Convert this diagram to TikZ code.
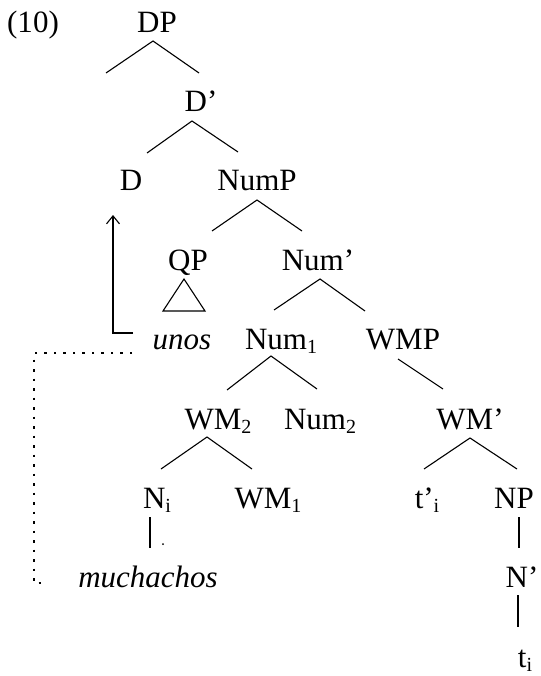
\documentclass[tikz,border=0pt]{standalone}
\usepackage{fontspec}
\setmainfont{Liberation Serif}
\usetikzlibrary{arrows.meta}
\newcommand{\sbx}[1]{\raisebox{-4pt}{\fontsize{20}{22}\selectfont #1}}
\tikzset{
  lbl/.style={inner sep=0pt, anchor=base, font=\fontsize{31}{36}\selectfont},
  branch/.style={line width=1.1pt, black},
  movearrow/.style={line width=1.1pt, -{Straight Barb[length=8pt,width=13pt,line width=1.1pt]}},
  trace/.style={line width=1.4pt, dash pattern=on 2.5pt off 7pt}
}
\begin{document}
\begin{tikzpicture}[x=1pt,y=1pt]
\useasboundingbox (0,0) rectangle (540,-676);
% nodes
\node[lbl] (ex)   at (33,-33)  {(10)};
\node[lbl] (DP)   at (157,-33) {DP};
\node[lbl] (Db)   at (201,-112) {D’};
\node[lbl] (D)    at (131,-191) {D};
\node[lbl] (NumP) at (257,-191) {NumP};
\node[lbl] (QP)   at (188,-270) {QP};
\node[lbl] (Numb) at (318,-270) {Num’};
\node[lbl] (unos) at (182,-349) {\itshape unos};
\node[lbl] (Numa) at (281,-349) {Num\sbx{1}};
\node[lbl] (WMP)  at (403,-349) {WMP};
\node[lbl] (WMb)  at (218,-429) {WM\sbx{2}};
\node[lbl] (Numc) at (320,-429) {Num\sbx{2}};
\node[lbl] (WMbar) at (470,-429) {WM’};
\node[lbl] (Ni)   at (157,-508) {N\sbx{i}};
\node[lbl] (WMa)  at (268,-508) {WM\sbx{1}};
\node[lbl] (ti2)  at (427,-508) {t’\sbx{i}};
\node[lbl] (NP)   at (514,-508) {NP};
\node[lbl] (much) at (148,-587) {\itshape muchachos};
\node[lbl] (Nbar) at (522,-587) {N’};
\node[lbl] (ti)   at (525,-667) {t\sbx{i}};
% branches
\draw[branch] ([shift={(-51,-40)}]DP.base) -- ([shift={(-4,-8)}]DP.base) -- ([shift={(-2,39)}]Db.base);
\draw[branch] ([shift={(16,38)}]D.base) -- ([shift={(-9,-9)}]Db.base) -- ([shift={(-19,39)}]NumP.base);
\draw[branch] ([shift={(24,39)}]QP.base) -- ([shift={(0,-9)}]NumP.base) -- ([shift={(-16,39)}]Numb.base);
\draw[branch] ([shift={(-25,-41)}]QP.base) -- ([shift={(-4,-9)}]QP.base) -- ([shift={(17,-41)}]QP.base) -- cycle;
\draw[branch] ([shift={(-7,39)}]Numa.base) -- ([shift={(2,-9)}]Numb.base) -- ([shift={(-38,38)}]WMP.base);
\draw[branch] ([shift={(9,39)}]WMb.base) -- ([shift={(-10,-7)}]Numa.base) -- ([shift={(-3,40)}]Numc.base);
\draw[branch] ([shift={(-5,-10)}]WMP.base) -- ([shift={(-27,40)}]WMbar.base);
\draw[branch] ([shift={(4,39)}]Ni.base) -- ([shift={(-11,-8)}]WMb.base) -- ([shift={(-16,39)}]WMa.base);
\draw[branch] ([shift={(-3,39)}]ti2.base) -- ([shift={(0,-9)}]WMbar.base) -- ([shift={(3,39)}]NP.base);
\draw[branch] ([shift={(-7,-9)}]Ni.base) -- ([shift={(-7,-40)}]Ni.base);
\fill ([shift={(6,-36)}]Ni.base) circle (1pt);
\draw[branch] ([shift={(5,-9)}]NP.base) -- ([shift={(-3,39)}]Nbar.base);
\draw[branch] ([shift={(-4,-8)}]Nbar.base) -- ([shift={(-7,40)}]ti.base);
% movement
\draw[movearrow] ([shift={(-49,16)}]unos.base) -| ([shift={(-18,-24)}]D.base);
\draw[trace] ([shift={(-50,-4)}]unos.base) -- ++(-98,0) |- ([shift={(-103,4)}]much.base);
\end{tikzpicture}
\end{document}
